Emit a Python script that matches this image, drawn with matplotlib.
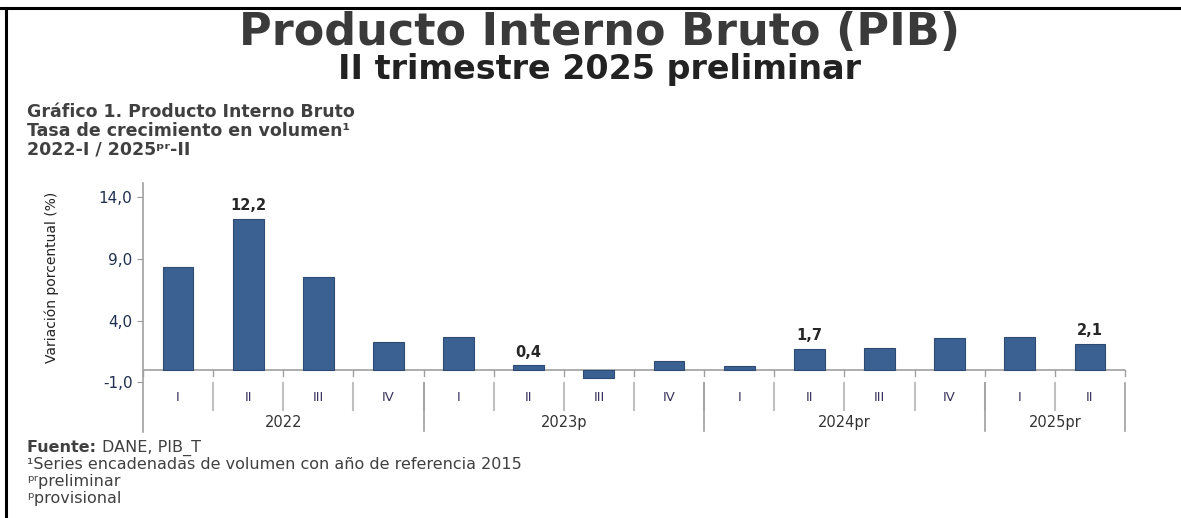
import matplotlib.pyplot as plt
from matplotlib.lines import Line2D

# quarterly growth, 2022-I to 2025-II
quarters = ["I", "II", "III", "IV"] * 3 + ["I", "II"]
years = ["2022", "2023p", "2024pr", "2025pr"]
year_sizes = [4, 4, 4, 2]
growth = [8.3, 12.2, 7.5, 2.3, 2.7, 0.4, -0.6, 0.7, 0.3, 1.7, 1.8, 2.6, 2.7, 2.1]
labelled = [1, 5, 9, 13]
yticks = [14.0, 9.0, 4.0, -1.0]

bar_color = "#3b6192"
grey = "#404040"

fig = plt.figure(figsize=(11.81, 5.18), dpi=100)
W, H = 1181, 518
# frame: top and left only
fig.lines.append(Line2D([0, 1], [1 - 8 / H, 1 - 8 / H], transform=fig.transFigure,
                        color="black", linewidth=2.2))
fig.lines.append(Line2D([6 / W, 6 / W], [0, 1 - 8 / H], transform=fig.transFigure,
                        color="black", linewidth=2.2))

fig.text(0.508, 0.937, "Producto Interno Bruto (PIB)", ha="center", va="center",
         fontsize=32, fontweight="bold", color="#3a3a3a")
fig.text(0.508, 0.865, "II trimestre 2025 preliminar", ha="center", va="center",
         fontsize=24, fontweight="bold", color="#222222")

fig.text(0.023, 0.783, "Gráfico 1. Producto Interno Bruto", fontsize=12.5,
         fontweight="bold", color=grey, va="center")
fig.text(0.023, 0.748, "Tasa de crecimiento en volumen¹", fontsize=12.5,
         fontweight="bold", color=grey, va="center")
fig.text(0.023, 0.712, "2022-I / 2025ᵖʳ-II", fontsize=12.5,
         fontweight="bold", color=grey, va="center")

src = fig.text(0.023, 0.127, "Fuente: ", fontsize=11.5, fontweight="bold", color=grey,
               va="baseline")
fig.canvas.draw()
bb = src.get_window_extent().transformed(fig.transFigure.inverted())
fig.text(bb.x1, 0.127, "DANE, PIB_T", fontsize=11.5, color=grey, va="baseline")
fig.text(0.023, 0.103, "¹Series encadenadas de volumen con año de referencia 2015",
         fontsize=11.5, color=grey, va="center")
fig.text(0.023, 0.070, "ᵖʳpreliminar", fontsize=11.5, color=grey, va="center")
fig.text(0.023, 0.037, "ᵖprovisional", fontsize=11.5, color=grey, va="center")

ax = fig.add_axes([0.121, 0.166, 0.8316, 0.4807])
x = list(range(len(growth)))
ax.bar(x, growth, width=0.44, color=bar_color, edgecolor="#2c4a72", linewidth=0.8, zorder=3)

for i in labelled:
    ax.text(x[i], growth[i] + 0.45, f"{growth[i]:.1f}".replace(".", ","),
            ha="center", va="bottom", fontsize=10.5, fontweight="bold", color="#262626")

ax.set_xlim(-0.5, len(growth) - 0.5)
ax.set_ylim(-5.0, 15.1)
ax.set_yticks(yticks)
ax.set_yticklabels([f"{v:.1f}".replace(".", ",") for v in yticks],
                   fontsize=11, color="#1f3050")
ax.tick_params(axis="y", length=4, color="#999999")
ax.set_xticks([])
ax.set_ylabel("Variación porcentual (%)", fontsize=10, color="#222222")
ax.yaxis.set_label_coords(-0.085, 0.62)

for side in ["top", "right", "bottom"]:
    ax.spines[side].set_visible(False)
ax.spines["left"].set_color("#a0a0a0")
ax.spines["left"].set_linewidth(1.2)

# zero line with small ticks at cell boundaries
ax.axhline(0, color="#a0a0a0", linewidth=1.2, zorder=2)
for b in range(len(growth) + 1):
    ax.plot([b - 0.5, b - 0.5], [0, -0.45], color="#a0a0a0", linewidth=1.0, clip_on=False)

# quarter labels and separators
for i, q in enumerate(quarters):
    ax.text(x[i], -2.25, q, ha="center", va="center", fontsize=9.5, color="#3d3560")
for b in range(1, len(growth)):
    ax.plot([b - 0.5, b - 0.5], [-1.05, -3.2], color="#c0c0c0", linewidth=1.5, clip_on=False)

# year labels and separators
start = 0
for y, n in zip(years, year_sizes):
    ax.text(start + n / 2 - 0.5, -4.2, y, ha="center", va="center", fontsize=10.5, color="#333333")
    end = start + n
    ax.plot([end - 0.5, end - 0.5], [-1.05, -4.95], color="#a0a0a0", linewidth=1.2, clip_on=False)
    start = end

fig.savefig("out.png", dpi=100)
